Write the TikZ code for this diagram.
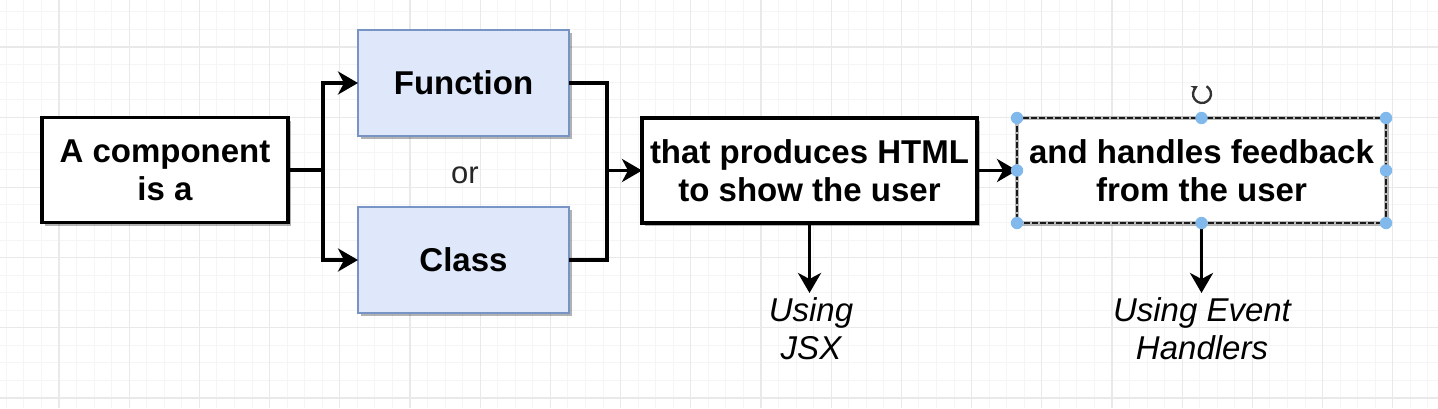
\documentclass[tikz,border=0pt]{standalone}
\usepackage{fontspec}
\setmainfont{Liberation Sans}
\usetikzlibrary{arrows.meta,shadows,calc}
\definecolor{gridmaj}{RGB}{233,233,233}
\definecolor{gridmin}{RGB}{245,245,245}
\definecolor{fillblue}{RGB}{222,232,250}
\definecolor{edgeblue}{RGB}{120,148,196}
\definecolor{handle}{RGB}{130,185,236}
\begin{document}
\begin{tikzpicture}[x=1pt,y=-1pt,
  boxsh/.style={drop shadow={shadow xshift=3pt,shadow yshift=-3pt,fill=black,opacity=0.3}},
  box/.style={draw=black,line width=3.4pt,fill=white,outer sep=0pt,inner sep=0pt,
    minimum height=105pt,align=center,font=\fontsize{33}{38}\selectfont\bfseries,boxsh},
  bluebox/.style={box,draw=edgeblue,line width=2.5pt,fill=fillblue,minimum height=106pt,minimum width=211pt},
  arr/.style={line width=3.4pt,-{Stealth[length=20pt,width=23pt,inset=6pt]}},
  plain/.style={line width=3.4pt},
  lab/.style={align=center,inner sep=0pt,font=\fontsize{33}{38}\selectfont\itshape},
  handlept/.style={fill=handle}
]
\fill[white] (0,0) rectangle (1438,408);
\useasboundingbox (0,0) rectangle (1438,408);
\begin{scope}
\clip (0,0) rectangle (1438,408);
\foreach \i in {0,...,82} {\draw[gridmin,line width=1pt] ({6.35+17.55*\i},0) -- ({6.35+17.55*\i},408);}
\foreach \i in {0,...,23} {\draw[gridmin,line width=1pt] (0,{11.9+17.55*\i}) -- (1438,{11.9+17.55*\i});}
\foreach \i in {-1,...,20} {\draw[gridmaj,line width=1.2pt] ({59+70.2*\i},0) -- ({59+70.2*\i},408);}
\foreach \i in {-1,...,5} {\draw[gridmaj,line width=1.2pt] (0,{47+70.2*\i}) -- (1438,{47+70.2*\i});}
\end{scope}

% nodes
\node[box,minimum width=246pt] (A) at (165,170) {A component\\is a};
\node[bluebox] (F) at (463.5,83) {Function};
\node[bluebox] (C) at (463.5,260) {Class};
\node[font=\fontsize{31}{36}\selectfont,text=black!85] (or) at (465,175) {or};
\node[box,minimum width=335pt] (H) at (809.5,170.5) {that produces HTML\\to show the user};
\node[box,draw=gray!55,minimum width=369pt] (Fb) at (1201.5,170.5) {and handles feedback\\from the user};
\node[lab,anchor=north] (jsx) at (811,297) {Using\\JSX};
\node[lab,anchor=north] (evt) at (1202,297) {Using Event\\Handlers};

% selection overlay on Fb
\draw[black!90,line width=2.6pt,dash pattern=on 6pt off 2pt] (Fb.north west) rectangle (Fb.south east);

% connectors
\coordinate (j1) at ($(A.east)+(35,0)$);
\coordinate (j2) at ($(H.west)+(-35,0)$);
\draw[plain] (A.east) -- (j1);
\draw[arr] (j1) |- (F.west);
\draw[arr] (j1) |- (C.west);
\draw[plain] (F.east) -| (j2);
\draw[plain] (C.east) -| (j2);
\draw[arr] (j2) -- (H.west);
\draw[arr] (H.east) -- (Fb.west);
\draw[arr,shorten >=4pt] (H.south) -- (H.south |- jsx.north);
\draw[arr,shorten >=4pt] (Fb.south) -- (Fb.south |- evt.north);

% selection handles
\foreach \a in {north west,north,north east,east,south east,south,south west,west}
  {\fill[handlept] (Fb.\a) circle (6.2pt);}

% rotate icon
\draw[line width=2.3pt,black!80,-{Stealth[length=6pt,width=7pt]}]
  ([shift={(300:9)}]1202,94) arc[start angle=300,end angle=600,radius=9];
\end{tikzpicture}
\end{document}
